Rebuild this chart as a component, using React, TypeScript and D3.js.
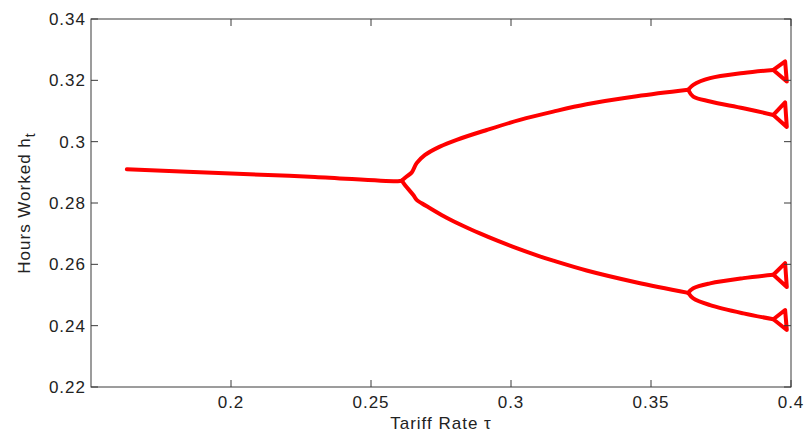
import React from "react";
import * as d3 from "d3";

type P = [number, number];

const xTicks = [0.2, 0.25, 0.3, 0.35, 0.4];
const yTicks = [0.22, 0.24, 0.26, 0.28, 0.3, 0.32, 0.34];

// Period-1 branch
const mainBranch: P[] = [
  [0.1628, 0.291], [0.2, 0.2896], [0.23, 0.2885], [0.2596, 0.2871], [0.261, 0.2873],
];
// Period-2 branches
const upperBranch: P[] = [
  [0.261, 0.2873], [0.2625, 0.2885], [0.2645, 0.2899], [0.2663, 0.293], [0.2693, 0.2957],
  [0.2746, 0.2984], [0.2806, 0.3006], [0.2913, 0.3038], [0.3032, 0.3071], [0.3151, 0.3098],
  [0.327, 0.3122], [0.3449, 0.3148], [0.3633, 0.3169],
];
const lowerBranch: P[] = [
  [0.261, 0.2873], [0.2621, 0.2859], [0.2651, 0.2826], [0.2663, 0.281], [0.2681, 0.2799],
  [0.2711, 0.2783], [0.277, 0.2752], [0.283, 0.2725], [0.2889, 0.2701], [0.2949, 0.2678],
  [0.302, 0.2653], [0.31, 0.2627], [0.3151, 0.2612], [0.327, 0.258], [0.3449, 0.2541], [0.3633, 0.2507],
];
// Period-4 branches
const uuBranch: P[] = [[0.3633, 0.3169], [0.3651, 0.3185], [0.3711, 0.3207], [0.383, 0.3224], [0.3937, 0.3234]];
const ulBranch: P[] = [[0.3633, 0.3169], [0.3651, 0.3147], [0.3711, 0.3131], [0.383, 0.3109], [0.3937, 0.3087]];
const luBranch: P[] = [[0.3633, 0.2507], [0.3651, 0.2522], [0.3711, 0.2538], [0.383, 0.2555], [0.3937, 0.2566]];
const llBranch: P[] = [[0.3633, 0.2507], [0.3651, 0.2489], [0.3711, 0.2467], [0.383, 0.244], [0.3937, 0.2421]];
// Chaotic loops at the end
const uuLoop: P[] = [[0.3937, 0.3234], [0.3979, 0.3262], [0.3985, 0.3196]];
const ulLoop: P[] = [[0.3937, 0.3087], [0.3979, 0.3128], [0.3985, 0.3048]];
const luLoop: P[] = [[0.3937, 0.2566], [0.3979, 0.2604], [0.3985, 0.2526]];
const llLoop: P[] = [[0.3937, 0.2421], [0.3979, 0.2451], [0.3985, 0.2386]];

const branches = [mainBranch, upperBranch, lowerBranch, uuBranch, ulBranch, luBranch, llBranch];
const loops = [uuLoop, ulLoop, luLoop, llLoop];

const W = 809, H = 437;
const L = 91, R = 791, T = 19, B = 387;

export default function App() {
  const x = d3.scaleLinear().domain([0.15, 0.4]).range([L, R]);
  const y = d3.scaleLinear().domain([0.22, 0.34]).range([B, T]);
  const line = d3.line<P>().x(d => x(d[0])).y(d => y(d[1])).curve(d3.curveCatmullRom.alpha(0.5));
  const loopLine = d3.line<P>().x(d => x(d[0])).y(d => y(d[1])).curve(d3.curveLinearClosed);
  const font = "'Liberation Sans', Arial, sans-serif";
  const axisColor = "#3a3a3a";
  const tl = 7;
  const fs = 17;
  const ls = 1;
  return (
    <svg width={W} height={H} style={{ position: "absolute", left: 0, top: 0, background: "#fff" }}
      fontFamily={font}>
      <rect x={0} y={0} width={W} height={H} fill="#fff" />
      <g fill="none" stroke="#ff0000" strokeWidth={4} strokeLinejoin="round" strokeLinecap="round">
        {branches.map((b, i) => <path key={i} d={line(b) || ""} />)}
        {loops.map((b, i) => <path key={"l" + i} d={loopLine(b) || ""} strokeWidth={4} />)}
      </g>
      <rect x={L} y={T} width={R - L} height={B - T} fill="none" stroke={axisColor} strokeWidth={1} />
      {xTicks.map(t => (
        <g key={"x" + t}>
          <line x1={x(t)} x2={x(t)} y1={B} y2={B - tl} stroke={axisColor} />
          <line x1={x(t)} x2={x(t)} y1={T} y2={T + tl} stroke={axisColor} />
          <text x={x(t)} y={B + 21} textAnchor="middle" fontSize={fs} letterSpacing={ls} fill="#222">{String(t)}</text>
        </g>
      ))}
      {yTicks.map(t => (
        <g key={"y" + t}>
          <line x1={L} x2={L + tl} y1={y(t)} y2={y(t)} stroke={axisColor} />
          <line x1={R} x2={R - tl} y1={y(t)} y2={y(t)} stroke={axisColor} />
          <text x={L - 5} y={y(t) + 6} textAnchor="end" fontSize={fs} letterSpacing={ls} fill="#222">{String(t)}</text>
        </g>
      ))}
      <text x={(L + R) / 2} y={429} textAnchor="middle" fontSize={fs} letterSpacing={ls} fill="#222">Tariff Rate τ</text>
      <text transform={`translate(30, ${(T + B) / 2}) rotate(-90)`} textAnchor="middle" fontSize={fs} letterSpacing={ls} fill="#222">
        Hours Worked h<tspan dy={5} fontSize={14}>t</tspan>
      </text>
    </svg>
  );
}
